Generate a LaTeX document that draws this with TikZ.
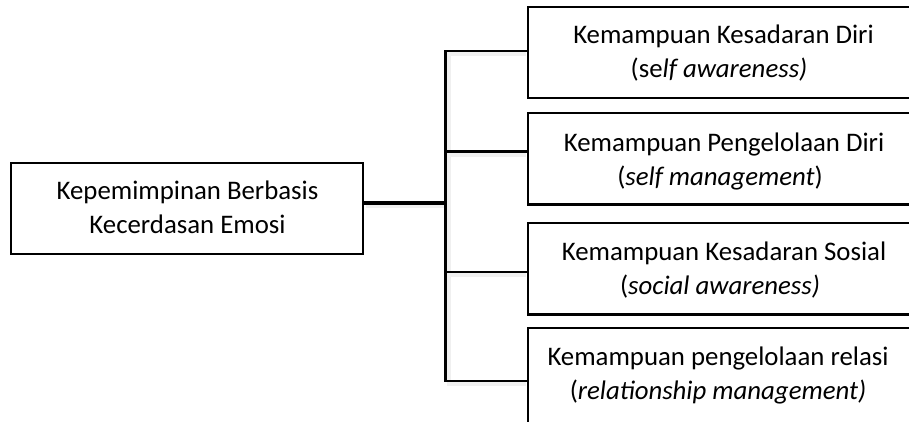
\documentclass[tikz,border=0pt]{standalone}
\usepackage{fontspec}
\setmainfont{Carlito}
\begin{document}
\begin{tikzpicture}[x=1pt,y=-1pt,
  box/.style={draw=black,line width=2.3pt,inner sep=0pt,fill=white},
  lbl/.style={inner sep=0pt,anchor=base,font=\fontsize{26.8}{34}\selectfont},
  conn/.style={draw=black,line width=2.5pt},
  thickconn/.style={draw=black,line width=3.9pt},
  shadowline/.style={draw=black!6,line width=4pt}]
\useasboundingbox (0,0) rectangle (909,421);
\clip (0,0) rectangle (909,421);
% coordinates of the bus
\coordinate (top) at (445.7,51);
\coordinate (bot) at (445.7,381);
\coordinate (mid) at (445.7,203.3);
\coordinate (j1) at (445.7,51);
\coordinate (j2) at (445.7,151.5);
\coordinate (j3) at (445.7,272);
\coordinate (j4) at (445.7,381);
% boxes
\node[box,minimum width=352pt,minimum height=91.3pt] (L) at (187.2,208.4) {};
\node[box,minimum width=390pt,minimum height=91.6pt] (b1) at (723.3,52.5) {};
\node[box,minimum width=390pt,minimum height=91.6pt] (b2) at (723.3,158.7) {};
\node[box,minimum width=390pt,minimum height=91.6pt] (b3) at (723.3,268.6) {};
\node[box,minimum width=390pt,minimum height=100pt] (b4) at (723.3,378) {};
% shadows
\path[shadowline] ([shift={(1.5,3)}]L.east |- mid) -- ([shift={(1.5,3)}]mid);
\path[shadowline] ([shift={(3,1.5)}]top) -- ([shift={(3,1.5)}]bot);
\foreach \j/\b in {j1/b1,j2/b2,j3/b3,j4/b4}
  \path[shadowline] ([shift={(1.5,3)}]\j) -- ([shift={(-1.5,3)}]\b.west |- \j);
% connectors
\path[thickconn] (L.east |- mid) -- (mid);
\path[conn,line cap=rect] (top) -- (bot);
\foreach \j/\b in {j1/b1,j2/b2,j3/b3,j4/b4}
  \path[conn] (\j) -- (\b.west |- \j);
% texts
\node[lbl] (Lt1) at (187.5,199) {Kepemimpinan Berbasis};
\node[lbl] (Lt2) at (187.5,233) {Kecerdasan Emosi};
\node[lbl] (b1t1) at (723.5,43) {Kemampuan Kesadaran Diri};
\node[lbl] (b1t2) at (719,77) {(se\textit{lf awareness)}};
\node[lbl] (b2t1) at (724,151) {Kemampuan Pengelolaan Diri};
\node[lbl] (b2t2) at (720,185) {(\textit{self management})};
\node[lbl] (b3t1) at (724,260) {Kemampuan Kesadaran Sosial};
\node[lbl] (b3t2) at (720,294) {(\textit{social awareness)}};
\node[lbl] (b4t1) at (718,365) {Kemampuan pengelolaan relasi};
\node[lbl] (b4t2) at (718,399) {(\textit{relationship management)}};
\end{tikzpicture}
\end{document}
